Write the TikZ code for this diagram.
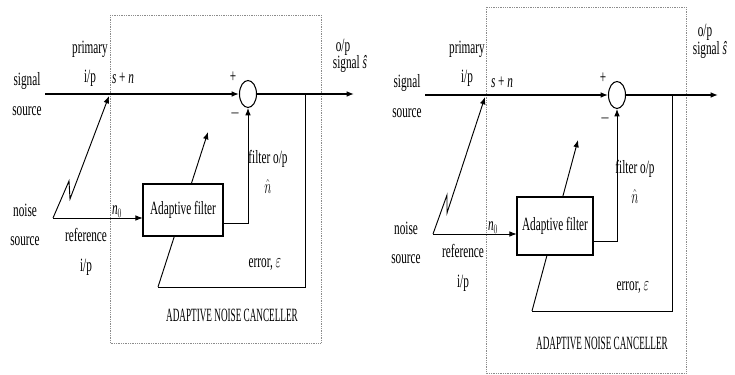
\documentclass[tikz,border=0pt]{standalone}
\usepackage{fontspec}
\setmainfont{Liberation Serif}
\usetikzlibrary{arrows.meta,shapes.geometric}

\begin{document}
\begin{tikzpicture}[
  x=0.03cm, y=-0.03cm,
  lbl/.style={font=\fontsize{16}{25}\selectfont, align=center, inner sep=0pt, xscale=0.6},
  caps/.style={font=\fontsize{16}{25}\selectfont, inner sep=0pt, xscale=0.49},
  frame/.style={draw=black!45, densely dotted, line width=0.5pt},
  sum/.style={ellipse, draw, line width=0.9pt, minimum width=0.51cm, minimum height=0.81cm, inner sep=0pt},
  filt/.style={rectangle, draw, line width=0.9pt, fill=white, font=\fontsize{16}{18}\selectfont, xscale=0.6, inner sep=0pt},
  sig/.style={line width=1.1pt, -{Latex[length=2.2mm,width=1.7mm]}},
  tip/.style={line width=0.8pt, -{Latex[length=2.2mm,width=1.7mm]}},
  wire/.style={line width=0.8pt}
]
\useasboundingbox (0,0) rectangle (735,375);

% left canceller
\draw[frame] (110,15) rectangle (321,343);
\node[lbl] (srcL) at (27,94) {signal\\source};
\coordinate (inL) at (45,94);
\node[sum] (sumL) at (248,94) {};
\coordinate (tapL) at (305,94);
\coordinate (outL) at (354,94);
\coordinate (noiseptL) at (53,218);
\coordinate (cornerL) at (158,287);
\coordinate (adaptL) at (208,132);
\draw[wire] (tapL) |- (cornerL);
\draw[tip] (cornerL) -- (adaptL);
\node[filt, minimum width=4cm, minimum height=1.56cm] (filterL) at (183,210) {Adaptive filter};
\draw[sig] (inL) -- (sumL.west);
\draw[sig] (sumL.east) -- (outL);
\draw[tip] (noiseptL) -- (filterL.west |- noiseptL);
\draw[tip] ([yshift=-0.39cm]filterL.east) -| (sumL.south);
\draw[tip] (noiseptL) -- (69,181) -- (70,199) -- (109,96);

\node[lbl] (primL) at (90,64) {primary\\i/p};
\node[lbl] (snL) at (123,78) {\textit{s} + \textit{n}};
\node[lbl] (plusL) at (233,77) {+};
\node[lbl] (minusL) at (235,113) {$-$};
\node[lbl] (opL) at (343,47) {o/p};
\node[lbl] (shatL) at (350,64) {signal \textit{ŝ}};
\node[lbl] (fopL) at (268,172) {filter o/p\\$\hat{n}$};
\node[lbl] (noiseL) at (25,225) {noise\\source};
\node[lbl] (n0L) at (117,212) {\textit{n}$_0$};
\node[lbl] (refL) at (86,252) {reference\\i/p};
\node[lbl] (errL) at (265,265) {error, $\varepsilon$};
\node[caps] (titleL) at (232,315) {ADAPTIVE NOISE CANCELLER};

% right canceller
\draw[frame] (486,7) rectangle (686,373);
\node[lbl] (srcR) at (407,96) {signal\\source};
\coordinate (inR) at (425,95);
\node[sum] (sumR) at (617,95) {};
\coordinate (tapR) at (672,95);
\coordinate (outR) at (718,95);
\coordinate (noiseptR) at (433,234);
\coordinate (cornerR) at (532,311);
\coordinate (adaptR) at (578,140);
\draw[wire] (tapR) |- (cornerR);
\draw[tip] (cornerR) -- (adaptR);
\node[filt, minimum width=3.8cm, minimum height=1.74cm] (filterR) at (555,226) {Adaptive filter};
\draw[sig] (inR) -- (sumR.west);
\draw[sig] (sumR.east) -- (outR);
\draw[tip] (noiseptR) -- (filterR.west |- noiseptR);
\draw[tip] ([yshift=-0.45cm]filterR.east) -| (sumR.south);
\draw[tip] (noiseptR) -- (447,195) -- (447,213) -- (485,97);

\node[lbl] (primR) at (467,64) {primary\\i/p};
\node[lbl] (snR) at (502,82) {\textit{s} + \textit{n}};
\node[lbl] (plusR) at (603,78) {+};
\node[lbl] (minusR) at (605,118) {$-$};
\node[lbl] (opR) at (705,32) {o/p};
\node[lbl] (shatR) at (710,50) {signal \textit{ŝ}};
\node[lbl] (fopR) at (635,182) {filter o/p\\$\hat{n}$};
\node[lbl] (noiseR) at (406,243) {noise\\source};
\node[lbl] (n0R) at (493,228) {\textit{n}$_0$};
\node[lbl] (refR) at (463,268) {reference\\i/p};
\node[lbl] (errR) at (633,288) {error, $\varepsilon$};
\node[caps] (titleR) at (602,343) {ADAPTIVE NOISE CANCELLER};
\end{tikzpicture}
\end{document}
